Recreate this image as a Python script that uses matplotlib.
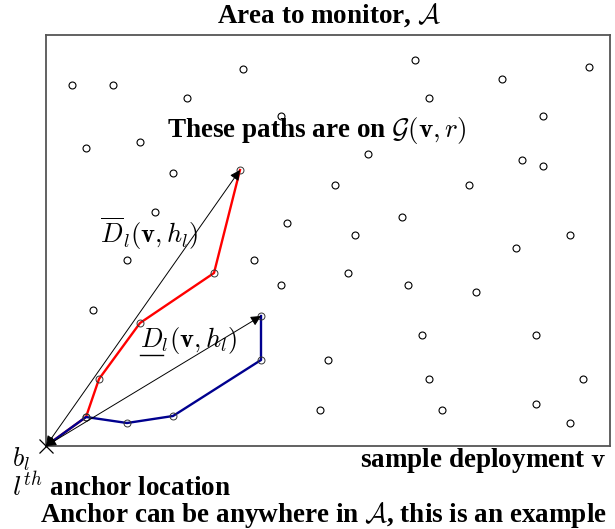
import matplotlib
matplotlib.use("Agg")
import matplotlib.pyplot as plt
from matplotlib.lines import Line2D
from matplotlib.mathtext import MathTextParser

plt.rcParams['font.family'] = ['Liberation Serif', 'DejaVu Serif']
plt.rcParams['mathtext.fontset'] = 'cm'

# sample deployment v : sensor positions (field units, anchor b_l at origin)
node_x = [26, 67, 197, 141, 369, 456, 543, 383, 497, 235, 40, 94, 322, 476, 497,
          127, 289, 423, 109, 356, 241, 309, 524, 470, 81, 208, 302, 235, 362, 430,
          47, 376, 490, 282, 383, 537, 274, 396, 490, 524]
node_y = [361, 361, 377, 348, 386, 367, 379, 348, 330, 330, 298, 304, 292, 286, 280,
          273, 261, 261, 234, 229, 223, 211, 211, 198, 186, 186, 173, 161, 161, 154,
          136, 111, 111, 86, 67, 67, 36, 36, 42, 23]

# path giving the upper bound (red) and lower bound (blue)
anchor = (0, 0)
red_x = [0, 40, 53, 94, 168, 194]
red_y = [0, 29, 67, 123, 173, 276]
blue_x = [0, 40, 81, 127, 215, 215]
blue_y = [0, 29, 23, 30, 86, 130]

W, H = 615, 529
fig = plt.figure(figsize=(6.15, 5.29), dpi=100)
# area box in pixels: x 46..610, y 35..446
ax = fig.add_axes([46 / W, 1 - 446 / H, 564 / W, 411 / H])
ax.set_xlim(0, 564)
ax.set_ylim(0, 411)
ax.set_xticks([])
ax.set_yticks([])
for s in ax.spines.values():
    s.set_color('#555555')
    s.set_linewidth(1.3)

ax.plot(node_x, node_y, 'o', mfc='white', mec='black', ms=5, mew=0.8, zorder=2)

ax.plot(red_x, red_y, color='red', lw=1.7, zorder=3)
ax.plot(blue_x, blue_y, color='#00008f', lw=1.7, zorder=4)
ax.plot(red_x[1:], red_y[1:], 'o', mfc='none', mec='#333333', ms=5, mew=0.7, zorder=5)
ax.plot(blue_x[1:], blue_y[1:], 'o', mfc='none', mec='#333333', ms=5, mew=0.7, zorder=5)

for px, py in [(red_x[-1], red_y[-1]), (blue_x[-1], blue_y[-1])]:
    ax.annotate('', xy=(px, py), xytext=anchor,
                arrowprops=dict(arrowstyle='<|-|>', color='black', lw=0.7,
                                mutation_scale=15, shrinkA=0, shrinkB=0),
                zorder=6)

ax.plot(*anchor, 'x', color='black', ms=10, mew=0.9, clip_on=False, zorder=7)

fs = 19.5
ms = 19
fig.text(329 / W, 1 - 23 / H, r'Area to monitor, $\mathcal{A}$', ha='center', va='baseline',
         fontsize=fs, fontweight='bold')
fig.text(317 / W, 1 - 137 / H, r'These paths are on $\mathcal{G}(\mathbf{v},r)$',
         ha='center', va='baseline', fontsize=fs, fontweight='bold')
fig.text(100 / W, 1 - 243 / H, r'$\overline{D}_l(\mathbf{v},h_l)$', ha='left', va='baseline',
         fontsize=ms)

try:
    MathTextParser('path').parse(r'$\underline{D}$')
    fig.text(140 / W, 1 - 347 / H, r'$\underline{D}_l(\mathbf{v},h_l)$', ha='left',
             va='baseline', fontsize=ms)
except Exception:
    fig.text(140 / W, 1 - 347 / H, r'$D_l(\mathbf{v},h_l)$', ha='left', va='baseline',
             fontsize=ms)
    d = fig.text(140 / W, 1 - 347 / H, r'$D$', ha='left', va='baseline', fontsize=ms, alpha=0)
    fig.canvas.draw()
    db = d.get_window_extent()
    yb = db.y0 - 3
    fig.add_artist(Line2D([db.x0 / W, db.x1 / W], [yb / H, yb / H], color='black', lw=1.0))

fig.text(12 / W, 1 - 467 / H, r'$b_l$', ha='left', va='baseline', fontsize=ms)
fig.text(606 / W, 1 - 467 / H, r'sample deployment $\mathbf{v}$', ha='right', va='baseline',
         fontsize=fs, fontweight='bold')
fig.text(12 / W, 1 - 497 / H, r'$l^{th}$ anchor location', ha='left', va='baseline',
         fontsize=fs, fontweight='bold')
fig.text(40 / W, 1 - 522 / H, r'Anchor can be anywhere in $\mathcal{A}$, this is an example',
         ha='left', va='baseline', fontsize=fs, fontweight='bold')

fig.savefig('out.png', dpi=100)
